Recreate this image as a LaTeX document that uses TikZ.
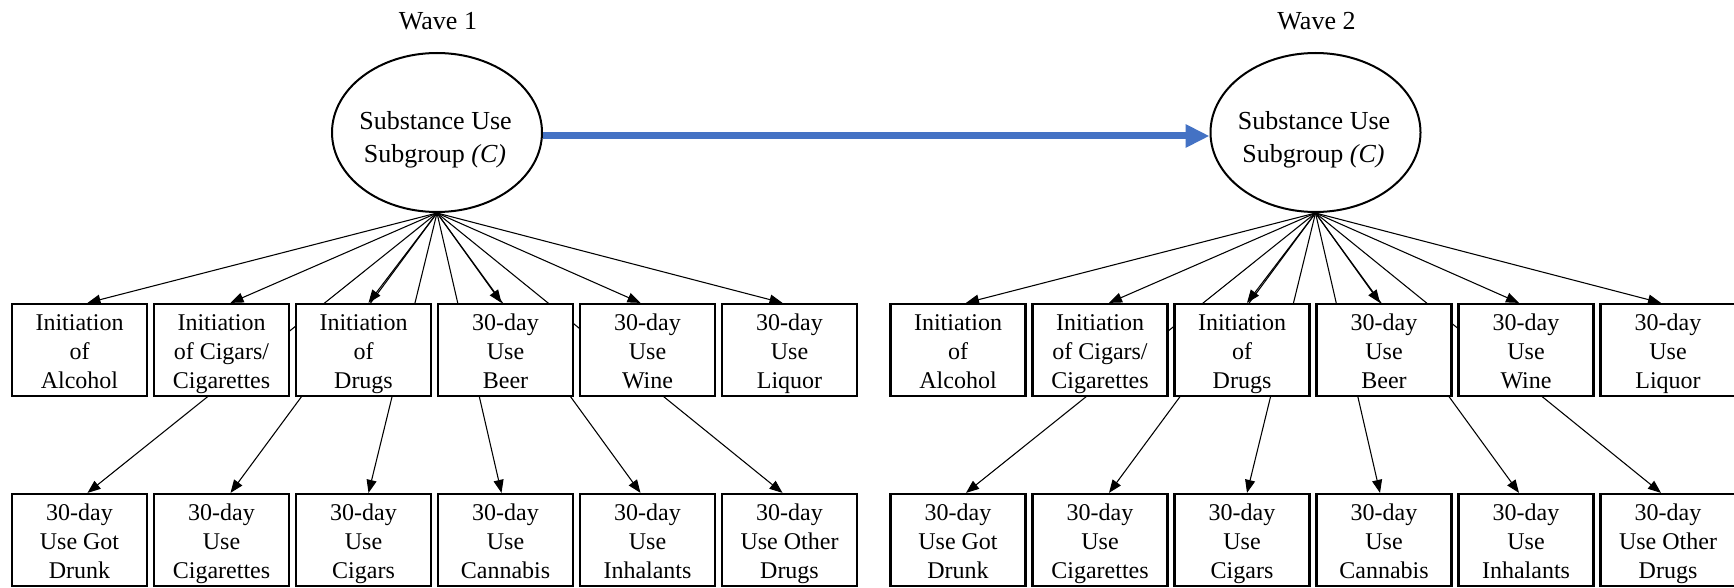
\documentclass[tikz,border=0pt]{standalone}
\usepackage{fontspec}
\setmainfont{Liberation Serif}
\usetikzlibrary{arrows.meta,shapes.geometric,calc}
\pgfdeclarelayer{bg}
\pgfsetlayers{bg,main}
\definecolor{wordblue}{RGB}{68,114,196}
\newcommand\threelines[3]{\rule{0pt}{17.6pt}#1\\#2\\#3\rule[-4pt]{0pt}{4pt}}
\begin{document}
\begin{tikzpicture}[x=0.75pt,y=-0.75pt,
  box/.style={draw, line width=1.65pt, fill=white, minimum width=101.25pt,
    minimum height=69pt, inner sep=0pt, align=center,
    font=\fontsize{18pt}{21.75pt}\selectfont},
  latent/.style={draw, ellipse, line width=1.5pt, fill=white,
    minimum width=157.5pt, minimum height=119.25pt, inner sep=0pt},
  ltext/.style={anchor=base, inner sep=0pt, font=\fontsize{19.5pt}{24pt}\selectfont},
  wave/.style={anchor=base, inner sep=0pt, font=\fontsize{19.5pt}{24pt}\selectfont},
  conn/.style={line width=0.8pt, -{Triangle[length=9.75pt,width=7.5pt]}},
  lag/.style={line width=5.25pt, draw=wordblue,
    -{Triangle[length=18pt,width=16.5pt]}}]
\useasboundingbox (0,0) rectangle (1734,588);
\begin{pgfonlayer}{bg}
  \fill[white] (0,0) rectangle (1734,588);
\end{pgfonlayer}
\foreach \g/\dx/\w in {L/0/1, R/878.5/2} {
  \node[wave] (W\g) at (438+\dx,30) {Wave \w};
  \node[latent] (C\g) at (437+\dx,132.5) {};
  \node[ltext] (S\g) at (435.5+\dx,130) {Substance Use};
  \node[ltext] (G\g) at (435+\dx,162) {Subgroup \textit{(C)}};
  % first row
  \node[box] (T\g1) at (79.5+\dx,350) {\threelines{Initiation}{of}{Alcohol}};
  \node[box] (T\g2) at (221.5+\dx,350) {\threelines{Initiation}{of Cigars/}{Cigarettes}};
  \node[box] (T\g3) at (363.5+\dx,350) {\threelines{Initiation}{of}{Drugs}};
  \node[box] (T\g4) at (505.5+\dx,350) {\threelines{30-day}{Use}{Beer}};
  \node[box] (T\g5) at (647.5+\dx,350) {\threelines{30-day}{Use}{Wine}};
  \node[box] (T\g6) at (789.5+\dx,350) {\threelines{30-day}{Use}{Liquor}};
  % second row
  \node[box] (B\g1) at (79.5+\dx,540) {\threelines{30-day}{Use Got}{Drunk}};
  \node[box] (B\g2) at (221.5+\dx,540) {\threelines{30-day}{Use}{Cigarettes}};
  \node[box] (B\g3) at (363.5+\dx,540) {\threelines{30-day}{Use}{Cigars}};
  \node[box] (B\g4) at (505.5+\dx,540) {\threelines{30-day}{Use}{Cannabis}};
  \node[box] (B\g5) at (647.5+\dx,540) {\threelines{30-day}{Use}{Inhalants}};
  \node[box] (B\g6) at (789.5+\dx,540) {\threelines{30-day}{Use Other}{Drugs}};
  \begin{pgfonlayer}{bg}
    \foreach \i/\o in {1/8,2/9,3/5,4/-4,5/-7,6/-7} {
      \draw[conn] (C\g.south) -- ($(T\g\i.north)+(\o,0)$);
      \draw[conn] (C\g.south) -- ($(B\g\i.north)+(\o,0)$);
    }
  \end{pgfonlayer}
}
\draw[lag] ($(CL.east)+(0,3.5)$) -- ($(CR.west)+(0,3.5)$);
\end{tikzpicture}
\end{document}
